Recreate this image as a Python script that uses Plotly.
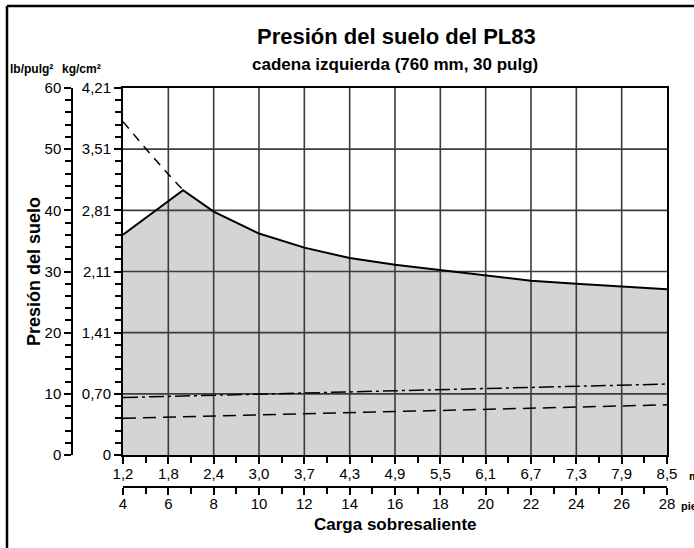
import plotly.graph_objects as go

# ---------------- data ----------------
main_x = [4, 6.65, 8, 10, 12, 14, 16, 18, 20, 22, 24, 26, 28]
main_y = [36.0, 43.3, 39.8, 36.2, 33.9, 32.2, 31.1, 30.2, 29.3, 28.5, 28.0, 27.5, 27.1]

upper_dash_x = [4, 5, 6, 6.65]
upper_dash_y = [54.5, 50.1, 45.9, 43.3]

dashdot_x = [4, 20, 28]
dashdot_y = [9.4, 10.9, 11.6]

lower_dash_x = [4, 28]
lower_dash_y = [6.0, 8.2]

ft_ticks = [4, 6, 8, 10, 12, 14, 16, 18, 20, 22, 24, 26, 28]
ft_labels = ["4", "6", "8", "10", "12", "14", "16", "18", "20", "22", "24", "26", "28"]
m_labels = ["1,2", "1,8", "2,4", "3,0", "3,7", "4,3", "4,9", "5,5", "6,1", "6,7", "7,3", "7,9", "8,5"]

psi_ticks = [0, 10, 20, 30, 40, 50, 60]
psi_labels = ["0", "10", "20", "30", "40", "50", "60"]
kg_labels = ["0", "0,70", "1,41", "2,11", "2,81", "3,51", "4,21"]

# ---------------- layout geometry (pixels) ----------------
W, H = 694, 548
L, R, T, B = 72, 27, 88, 61
PW = W - L - R
PH = H - T - B
x_dom0 = (123 - L) / PW
y_dom0 = (H - B - 455) / PH


def px(x):
    return (x - L) / PW


def py(y):
    return (H - B - y) / PH


FONT = "Liberation Sans, Arial, sans-serif"
GRID = "#3c3c3c"

fig = go.Figure()

fig.add_trace(go.Scatter(
    x=main_x, y=main_y, mode="lines", fill="tozeroy",
    fillcolor="#d3d4d6", line=dict(color="rgba(0,0,0,0)", width=0),
    hoverinfo="skip", showlegend=False))

# gridlines drawn above the fill, from the tick arrays
gx, gy = [], []
for v in ft_ticks[1:-1]:
    gx += [v, v, None]
    gy += [psi_ticks[0], psi_ticks[-1], None]
for v in psi_ticks[1:-1]:
    gx += [ft_ticks[0], ft_ticks[-1], None]
    gy += [v, v, None]
fig.add_trace(go.Scatter(x=gx, y=gy, mode="lines",
                         line=dict(color=GRID, width=1.6),
                         hoverinfo="skip", showlegend=False))

fig.add_trace(go.Scatter(x=main_x, y=main_y, mode="lines",
                         line=dict(color="black", width=2),
                         showlegend=False))
fig.add_trace(go.Scatter(x=upper_dash_x, y=upper_dash_y, mode="lines",
                         line=dict(color="black", width=1.5, dash="9px,7px"),
                         showlegend=False))
fig.add_trace(go.Scatter(x=dashdot_x, y=dashdot_y, mode="lines",
                         line=dict(color="black", width=1.5, dash="15px,4px,3px,4px"),
                         showlegend=False))
fig.add_trace(go.Scatter(x=lower_dash_x, y=lower_dash_y, mode="lines",
                         line=dict(color="black", width=1.5, dash="13px,7px"),
                         showlegend=False))
# invisible traces to activate secondary axes
fig.add_trace(go.Scatter(x=[ft_ticks[0]], y=[0], xaxis="x2", yaxis="y",
                         mode="markers", marker=dict(opacity=0),
                         hoverinfo="skip", showlegend=False))
fig.add_trace(go.Scatter(x=[ft_ticks[0]], y=[0], xaxis="x", yaxis="y2",
                         mode="markers", marker=dict(opacity=0),
                         hoverinfo="skip", showlegend=False))

tickfont = dict(family=FONT, size=15, color="black")
minor_x = dict(ticks="outside", ticklen=6, tickwidth=1.5, tickcolor="black",
               dtick=1, tick0=4, showgrid=False)
minor_y = dict(ticks="outside", ticklen=6, tickwidth=1.5, tickcolor="black",
               dtick=2, tick0=0, showgrid=False)

fig.update_layout(
    width=W, height=H,
    margin=dict(l=L, r=R, t=T, b=B, pad=0),
    paper_bgcolor="white", plot_bgcolor="white",
    font=dict(family=FONT, color="black"),
    xaxis=dict(domain=[x_dom0, 1], range=[ft_ticks[0], ft_ticks[-1]],
               tickvals=ft_ticks, ticktext=m_labels, ticks="outside",
               ticklen=7, tickwidth=1.5, tickcolor="black",
               showline=True, linecolor="black", linewidth=2, mirror=True,
               showgrid=False, zeroline=False, tickfont=tickfont,
               ticklabelstandoff=-3,
               anchor="y", minor=minor_x, fixedrange=True),
    xaxis2=dict(overlaying="x", anchor="free", position=0, side="bottom",
                range=[ft_ticks[0], ft_ticks[-1]],
                tickvals=ft_ticks, ticktext=ft_labels, ticks="outside",
                ticklen=7, tickwidth=1.5, tickcolor="black",
                showline=True, linecolor="black", linewidth=1.5,
                showgrid=False, zeroline=False, tickfont=tickfont,
                ticklabelstandoff=-4,
                minor=minor_x, fixedrange=True),
    yaxis=dict(domain=[y_dom0, 1], range=[psi_ticks[0], psi_ticks[-1]],
               tickvals=psi_ticks, ticktext=kg_labels, ticks="outside",
               ticklen=7, tickwidth=1.5, tickcolor="black",
               showline=True, linecolor="black", linewidth=2, mirror=True,
               showgrid=False, zeroline=False, tickfont=tickfont,
               anchor="x", minor=minor_y, fixedrange=True),
    yaxis2=dict(overlaying="y", anchor="free", position=0, side="left",
                range=[psi_ticks[0], psi_ticks[-1]],
                tickvals=psi_ticks, ticktext=psi_labels, ticks="outside",
                ticklen=7, tickwidth=1.5, tickcolor="black",
                showline=True, linecolor="black", linewidth=1.5,
                showgrid=False, zeroline=False, tickfont=tickfont,
                minor=minor_y, fixedrange=True),
)

ann = [
    dict(text="<b>Presión del suelo del PL83</b>", x=px(397), y=py(37),
         font=dict(size=22)),
    dict(text="<b>cadena izquierda (760 mm, 30 pulg)</b>", x=px(395), y=py(64),
         font=dict(size=17)),
    dict(text="<b>lb/pulg²</b>", x=px(31), y=py(69), font=dict(size=12)),
    dict(text="<b>kg/cm²</b>", x=px(81), y=py(69), font=dict(size=12)),
    dict(text="<b>Presión del suelo</b>", x=px(34), y=py(272), textangle=-90,
         font=dict(size=18)),
    dict(text="<b>Carga sobresaliente</b>", x=px(395), y=py(524),
         font=dict(size=17)),
    dict(text="<b>m</b>", x=px(687), y=py(476), xanchor="left", font=dict(size=11)),
    dict(text="<b>pies</b>", x=px(679), y=py(506), xanchor="left", font=dict(size=11)),
]
for a in ann:
    a.setdefault("xanchor", "center")
    fig.add_annotation(xref="paper", yref="paper", showarrow=False,
                       yanchor="middle", **a)

# outer frame
fig.add_shape(type="line", xref="paper", yref="paper",
              x0=px(7), x1=px(W + 10), y0=py(6), y1=py(6),
              line=dict(color="black", width=2.5))
fig.add_shape(type="line", xref="paper", yref="paper",
              x0=px(7), x1=px(7), y0=py(6), y1=py(H + 10),
              line=dict(color="black", width=2.5))

fig.write_html("out.html", config={"displayModeBar": False},
               post_script="document.body.style.margin='0';document.body.style.overflow='hidden';")
